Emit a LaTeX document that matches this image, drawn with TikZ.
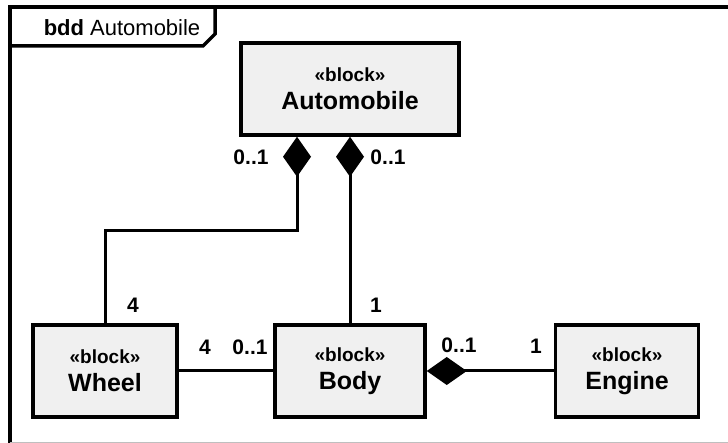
\documentclass[tikz,border=0pt]{standalone}
\usepackage{fontspec}
\setmainfont{Liberation Sans}
\usetikzlibrary{arrows.meta}
\definecolor{blockgray}{RGB}{240,240,240}
\newcommand{\blk}[1]{{\fontsize{19}{27}\selectfont «block»}\\{\fontsize{25}{28}\selectfont #1}}

\begin{document}
\begin{tikzpicture}[x=1pt,y=-1pt,
    block/.style={draw,line width=3.5pt,fill=blockgray,minimum height=92pt,
      inner sep=0pt,align=center,font=\bfseries\fontsize{25}{28}\selectfont},
    conn/.style={line width=3pt},
    comp/.style={conn,-{Diamond[length=40pt,width=28pt]}},
    mult/.style={font=\bfseries\fontsize{21}{23}\selectfont,inner sep=0pt}]
  \useasboundingbox (0,0) rectangle (728,443);

  % Frame and its tab
  \draw[line width=4pt] (728,7) -- (10,7) -- (10,443);
  \draw[black!25,line width=1pt] (10,442) -- (728,442);
  \draw[line width=3.5pt] (215,7) -- (215,34) -- (203,46) -- (10,46);
  \node[font=\fontsize{22}{24}\selectfont] (title) at (122,28) {\textbf{bdd} Automobile};

  % Blocks
  \node[block,minimum width=218pt] (auto) at (350,89) {\blk{Automobile}};
  \node[block,minimum width=144pt] (wheel) at (105,371) {\blk{Wheel}};
  \node[block,minimum width=150pt] (body) at (350,371) {\blk{Body}};
  \node[block,minimum width=143pt] (engine) at (627,371) {\blk{Engine}};

  % Compositions
  \draw[comp] (wheel.north) -- ++(0,-93) -| ([xshift=-53pt]auto.south);
  \draw[comp] (body.north) -- (auto.south);
  \draw[comp] (engine.west) -- (body.east);
  \draw[conn] (wheel.east) -- (body.west);

  % Multiplicities
  \node[mult] (m1) at (251,157) {0..1};
  \node[mult] (m2) at (388,157) {0..1};
  \node[mult] (m3) at (133,305) {4};
  \node[mult] (m4) at (376,305) {1};
  \node[mult] (m5) at (205,347) {4};
  \node[mult] (m6) at (250,347) {0..1};
  \node[mult] (m7) at (459,345) {0..1};
  \node[mult] (m8) at (536,346) {1};
\end{tikzpicture}
\end{document}
